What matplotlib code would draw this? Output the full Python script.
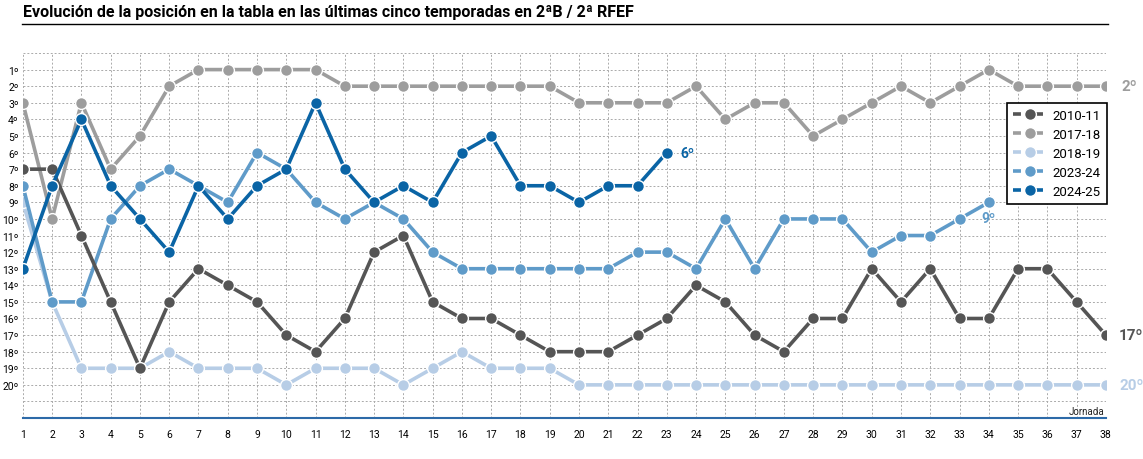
import numpy as np
import matplotlib.pyplot as plt
from matplotlib.lines import Line2D

jornadas = list(range(1, 39))

seasons = ["2010-11", "2017-18", "2018-19", "2023-24", "2024-25"]

pos_2010_11 = [7, 7, 11, 15, 19, 15, 13, 14, 15, 17, 18, 16, 12, 11, 15, 16, 16, 17, 18, 18,
               18, 17, 16, 14, 15, 17, 18, 16, 16, 13, 15, 13, 16, 16, 13, 13, 15, 17]
pos_2017_18 = [3, 10, 3, 7, 5, 2, 1, 1, 1, 1, 1, 2, 2, 2, 2, 2, 2, 2, 2, 3,
               3, 3, 3, 2, 4, 3, 3, 5, 4, 3, 2, 3, 2, 1, 2, 2, 2, 2]
pos_2018_19 = [9, 15, 19, 19, 19, 18, 19, 19, 19, 20, 19, 19, 19, 20, 19, 18, 19, 19, 19, 20,
               20, 20, 20, 20, 20, 20, 20, 20, 20, 20, 20, 20, 20, 20, 20, 20, 20, 20]
pos_2023_24 = [8, 15, 15, 10, 8, 7, 8, 9, 6, 7, 9, 10, 9, 10, 12, 13, 13, 13, 13, 13,
               13, 12, 12, 13, 10, 13, 10, 10, 10, 12, 11, 11, 10, 9]
pos_2024_25 = [13, 8, 4, 8, 10, 12, 8, 10, 8, 7, 3, 7, 9, 8, 9, 6, 5, 8, 8, 9,
               8, 8, 6]

series = [pos_2010_11, pos_2017_18, pos_2018_19, pos_2023_24, pos_2024_25]
colors = ["#555555", "#9d9d9d", "#b7cde6", "#5f9bc9", "#0a64a5"]
layers = [5, 4, 2, 3, 6]

plt.rcParams['font.family'] = ['Roboto', 'DejaVu Sans']

fig = plt.figure(figsize=(11.43, 4.6), dpi=100)
ax = fig.add_axes([0.020, 0.089, 0.9475, 0.7936])

for s, vals, c, z in zip(seasons, series, colors, layers):
    ax.plot(jornadas[:len(vals)], vals, color=c, lw=2.6, marker='o', ms=8.5,
            mec='white', mew=1.0, label=s, zorder=z, solid_capstyle='round')

ax.set_xlim(1, 38)
ax.set_ylim(22, 0)
ax.set_xticks(jornadas)
ax.set_xticklabels([str(j) for j in jornadas], fontsize=7.5)
ax.set_yticks(range(0, 22))
ax.set_yticklabels([""] + [f"{i}º" for i in range(1, 21)] + [""], fontsize=7.5)
ax.tick_params(length=0)
ax.tick_params(axis='x', pad=8)
ax.tick_params(axis='y', pad=3)
ax.grid(True, color='#aaaaaa', ls=(0, (2, 2)), lw=0.7, zorder=0)
for side in ['left', 'right', 'top']:
    ax.spines[side].set_visible(False)
ax.spines['bottom'].set_color('#2d6aa8')
ax.spines['bottom'].set_linewidth(1.5)

ax.text(37.95, 21.55, "Jornada", fontsize=7, ha='right', va='center', color='#222222')

# etiquetas finales
ax.text(38.55, pos_2017_18[-1], "2º", color=colors[1], fontsize=11, fontweight='bold', va='center')
ax.text(38.45, pos_2010_11[-1], "17º", color=colors[0], fontsize=11, fontweight='bold', va='center')
ax.text(38.45, pos_2018_19[-1], "20º", color=colors[2], fontsize=11, fontweight='bold', va='center')
ax.text(34, pos_2023_24[-1] + 0.95, "9º", color=colors[3], fontsize=10, fontweight='bold', ha='center', va='center')
ax.text(23.45, pos_2024_25[-1], "6º", color=colors[4], fontsize=10, fontweight='bold', va='center')

handles = [Line2D([0], [0], color=c, lw=2.6, ls=(0, (2.2, 3.9)), marker='o', ms=8.5,
                  mec='white', mew=1.0) for c in colors]
leg = ax.legend(handles, seasons, loc='upper right', bbox_to_anchor=(1.001, 0.863),
                borderaxespad=0, fontsize=9.5, frameon=True, fancybox=False,
                edgecolor='black', framealpha=1, handlelength=2.5, handletextpad=0.5,
                borderpad=0.45, labelspacing=0.45)
leg.get_frame().set_linewidth(1.2)
leg.set_zorder(10)

fig.text(0.02, 0.972, "Evolución de la posición en la tabla en las últimas cinco temporadas en 2ªB / 2ª RFEF",
         fontsize=11.5, fontweight='bold', va='center', ha='left')
fig.add_artist(Line2D([0.019, 0.969], [0.946, 0.946], color='black', lw=1.0))

fig.savefig("out.png", dpi=100)
